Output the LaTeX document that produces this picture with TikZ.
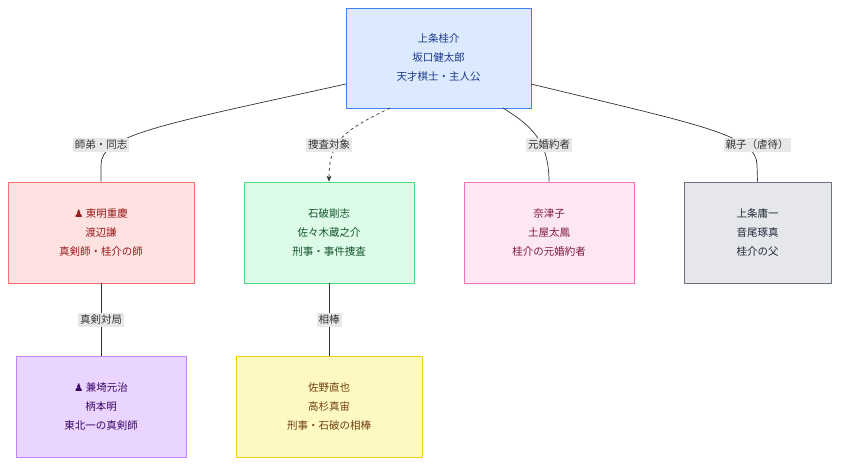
\documentclass[tikz,border=0pt]{standalone}
\usepackage{fontspec}
\setmainfont{Noto Sans CJK JP}
\newfontfamily\djv{DejaVu Sans}
\usetikzlibrary{arrows.meta}
\definecolor{bluef}{HTML}{DBEAFE}\definecolor{blued}{HTML}{3B82F6}\definecolor{bluet}{HTML}{1E3A8A}
\definecolor{redf}{HTML}{FEE2E2}\definecolor{redd}{HTML}{F87171}\definecolor{redt}{HTML}{991B1B}
\definecolor{grnf}{HTML}{DCFCE7}\definecolor{grnd}{HTML}{4ADE80}\definecolor{grnt}{HTML}{14532D}
\definecolor{pnkf}{HTML}{FCE7F3}\definecolor{pnkd}{HTML}{F472B6}\definecolor{pnkt}{HTML}{831843}
\definecolor{gryf}{HTML}{E5E7EB}\definecolor{gryd}{HTML}{6B7280}\definecolor{gryt}{HTML}{1F2937}
\definecolor{purf}{HTML}{E9D5FF}\definecolor{purd}{HTML}{C084FC}\definecolor{purt}{HTML}{3B0764}
\definecolor{ylwf}{HTML}{FEF9C3}\definecolor{ylwd}{HTML}{FACC15}\definecolor{ylwt}{HTML}{713F12}
\definecolor{lblf}{HTML}{E8E8E8}\definecolor{edge}{HTML}{333333}
\begin{document}
\begin{tikzpicture}[x=1pt,y=-1pt,
  box/.style={draw,line width=0.8pt,align=center,font=\fontsize{10.5}{19}\selectfont,inner sep=0pt},
  lbl/.style={fill=lblf,font=\fontsize{10.5}{13}\selectfont,inner sep=2pt,text=edge},
  con/.style={draw=edge,line width=0.7pt}]
\useasboundingbox (0,0) rectangle (847,470);
\node[box,fill=bluef,draw=blued,text=bluet,minimum width=185pt,minimum height=100pt] (k) at (438.5,58) {上条桂介\\坂口健太郎\\天才棋士・主人公};
\node[box,fill=redf,draw=redd,text=redt,minimum width=186pt,minimum height=101pt] (a) at (101,232.5) {{\djv ♟} 東明重慶\\渡辺謙\\真剣師・桂介の師};
\node[box,fill=grnf,draw=grnd,text=grnt,minimum width=170pt,minimum height=101pt] (b) at (329,232.5) {石破剛志\\佐々木蔵之介\\刑事・事件捜査};
\node[box,fill=pnkf,draw=pnkd,text=pnkt,minimum width=170pt,minimum height=101pt] (c) at (549,232.5) {奈津子\\土屋太鳳\\桂介の元婚約者};
\node[box,fill=gryf,draw=gryd,text=gryt,minimum width=147pt,minimum height=101pt] (d) at (757.5,232.5) {上条庸一\\音尾琢真\\桂介の父};
\node[box,fill=purf,draw=purd,text=purt,minimum width=170pt,minimum height=101pt] (e) at (101,406.5) {{\djv ♟} 兼埼元治\\柄本明\\東北一の真剣師};
\node[box,fill=ylwf,draw=ylwd,text=ylwt,minimum width=186pt,minimum height=101pt] (f) at (329,406.5) {佐野直也\\高杉真宙\\刑事・石破の相棒};
\coordinate (k1) at (346,84);
\coordinate (k2) at (390,108);
\coordinate (k3) at (503,108);
\coordinate (k4) at (531,84);
\draw[con] (k1) .. controls (160,125) and (101,135) .. (101,165) -- (a.north);
\draw[con,dashed,-{Stealth[length=6pt,width=5pt]}] (k2) .. controls (345,130) and (329,140) .. (b.north);
\draw[con] (k3) .. controls (530,125) and (549,140) .. (c.north);
\draw[con] (k4) .. controls (700,125) and (757,135) .. (757,165) -- (d.north);
\draw[con] (a) -- (e);
\draw[con] (b) -- (f);
\node[lbl] (l1) at (101,145) {師弟・同志};
\node[lbl] (l2) at (329,145) {捜査対象};
\node[lbl] (l3) at (549,145) {元婚約者};
\node[lbl] (l4) at (757,145) {親子（虐待）};
\node[lbl] (l5) at (101,320) {真剣対局};
\node[lbl] (l6) at (329,320) {相棒};
\end{tikzpicture}
\end{document}
